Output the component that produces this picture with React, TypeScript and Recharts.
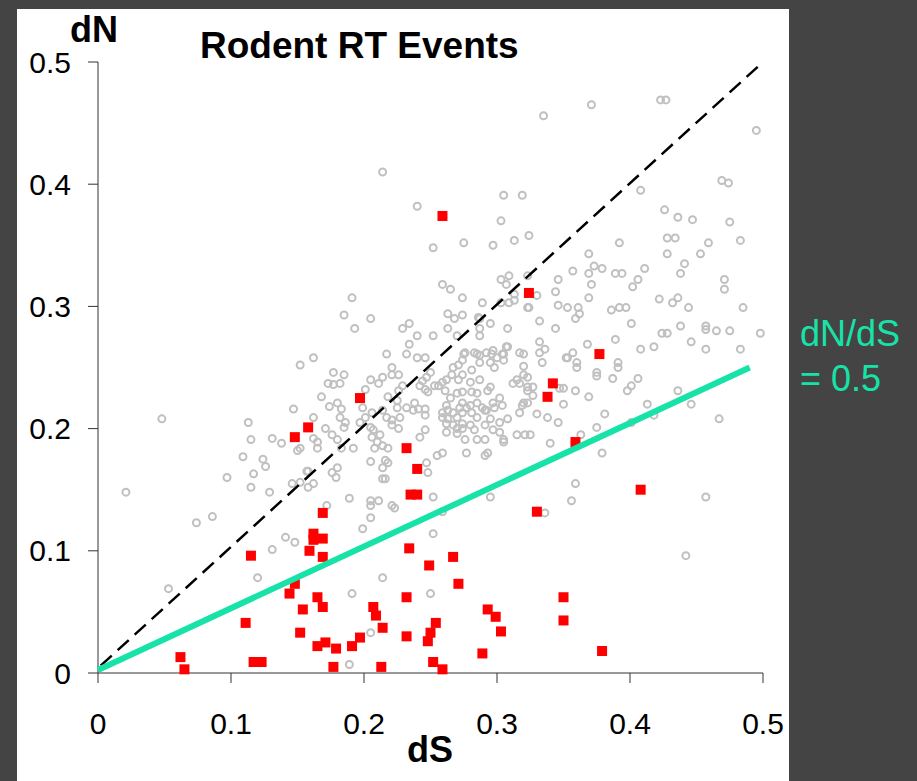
import React from 'react';
import { ScatterChart, Scatter, XAxis, YAxis } from 'recharts';

// axis ticks (dS on x, dN on y)
const dsTicks = [0, 0.1, 0.2, 0.3, 0.4, 0.5];
const dnTicks = [0, 0.1, 0.2, 0.3, 0.4, 0.5];

// grey open circles: [dS, dN]
const allPairs: [number, number][] = [
  [0.214, 0.410], [0.240, 0.382], [0.191, 0.307], [0.185, 0.293], [0.205, 0.290], [0.193, 0.282],
  [0.229, 0.282], [0.234, 0.286], [0.240, 0.276], [0.234, 0.269], [0.217, 0.261], [0.232, 0.261],
  [0.240, 0.258], [0.246, 0.258], [0.162, 0.258], [0.152, 0.252],
  [0.305, 0.391], [0.319, 0.391], [0.303, 0.370], [0.252, 0.348], [0.275, 0.352], [0.297, 0.350],
  [0.313, 0.354], [0.324, 0.358],
  [0.259, 0.318], [0.265, 0.314], [0.274, 0.307], [0.289, 0.303], [0.303, 0.322], [0.309, 0.325],
  [0.307, 0.318], [0.323, 0.325], [0.303, 0.303], [0.309, 0.303], [0.313, 0.310], [0.313, 0.305],
  [0.323, 0.299], [0.263, 0.294], [0.274, 0.293], [0.286, 0.291],
  [0.335, 0.456], [0.371, 0.465], [0.423, 0.469], [0.427, 0.469], [0.495, 0.444], [0.408, 0.395],
  [0.469, 0.403], [0.474, 0.401], [0.426, 0.379], [0.436, 0.373], [0.447, 0.371], [0.475, 0.369],
  [0.369, 0.343], [0.392, 0.352], [0.428, 0.356], [0.434, 0.356], [0.428, 0.343], [0.459, 0.352],
  [0.453, 0.343], [0.483, 0.354], [0.441, 0.335], [0.438, 0.327], [0.411, 0.331], [0.406, 0.322],
  [0.402, 0.316], [0.389, 0.327], [0.394, 0.327], [0.373, 0.333], [0.379, 0.331], [0.369, 0.327],
  [0.371, 0.318], [0.357, 0.329], [0.346, 0.322], [0.344, 0.312], [0.369, 0.307], [0.346, 0.301],
  [0.353, 0.299], [0.361, 0.299], [0.359, 0.290], [0.362, 0.294], [0.386, 0.297], [0.392, 0.299],
  [0.397, 0.299], [0.401, 0.286], [0.422, 0.306], [0.432, 0.303], [0.436, 0.307], [0.444, 0.299],
  [0.471, 0.322], [0.471, 0.314], [0.485, 0.299], [0.424, 0.278], [0.428, 0.278], [0.438, 0.284],
  [0.457, 0.284], [0.457, 0.281], [0.465, 0.280], [0.475, 0.280], [0.498, 0.278], [0.446, 0.271],
  [0.457, 0.265], [0.483, 0.265], [0.418, 0.267], [0.408, 0.265], [0.389, 0.273], [0.368, 0.269],
  [0.357, 0.262], [0.352, 0.258], [0.332, 0.288], [0.332, 0.271], [0.336, 0.265], [0.332, 0.262],
  [0.320, 0.261], [0.308, 0.282], [0.344, 0.282], [0.330, 0.309], [0.324, 0.299],
  [0.268, 0.290], [0.263, 0.282], [0.270, 0.276], [0.287, 0.290], [0.295, 0.286], [0.287, 0.282],
  [0.287, 0.276], [0.252, 0.276], [0.275, 0.261], [0.285, 0.261], [0.296, 0.261], [0.305, 0.261],
  [0.308, 0.267],
  [0.177, 0.246], [0.185, 0.244], [0.173, 0.237], [0.177, 0.236], [0.182, 0.237], [0.168, 0.226],
  [0.147, 0.216], [0.174, 0.218], [0.180, 0.221], [0.183, 0.216], [0.182, 0.209], [0.185, 0.201],
  [0.186, 0.205], [0.162, 0.209], [0.171, 0.200], [0.176, 0.195], [0.180, 0.191], [0.162, 0.192],
  [0.165, 0.189], [0.165, 0.184], [0.152, 0.184], [0.150, 0.182], [0.183, 0.184], [0.192, 0.184],
  [0.157, 0.165], [0.180, 0.168], [0.176, 0.164],
  [0.201, 0.232], [0.205, 0.240], [0.211, 0.237], [0.214, 0.242], [0.221, 0.250], [0.221, 0.244],
  [0.226, 0.244], [0.218, 0.226], [0.225, 0.223], [0.226, 0.231], [0.229, 0.235],
  [0.199, 0.217], [0.197, 0.205], [0.201, 0.209], [0.206, 0.213], [0.207, 0.199], [0.205, 0.201],
  [0.214, 0.215], [0.217, 0.209], [0.221, 0.207], [0.227, 0.209], [0.221, 0.203], [0.225, 0.217],
  [0.226, 0.200],
  [0.206, 0.193], [0.210, 0.189], [0.214, 0.186], [0.218, 0.184], [0.208, 0.184], [0.212, 0.195],
  [0.205, 0.173], [0.216, 0.174], [0.218, 0.172], [0.214, 0.168], [0.216, 0.159], [0.179, 0.160],
  [0.232, 0.217], [0.238, 0.221], [0.241, 0.216], [0.246, 0.216], [0.246, 0.211], [0.237, 0.215],
  [0.242, 0.235], [0.244, 0.239], [0.247, 0.242], [0.250, 0.246], [0.246, 0.232], [0.248, 0.230],
  [0.253, 0.235], [0.256, 0.235], [0.259, 0.238], [0.262, 0.240], [0.261, 0.231],
  [0.267, 0.250], [0.271, 0.252], [0.274, 0.256], [0.276, 0.262], [0.281, 0.248], [0.283, 0.262],
  [0.287, 0.260], [0.287, 0.254], [0.292, 0.262], [0.297, 0.264], [0.300, 0.258], [0.304, 0.261],
  [0.305, 0.256], [0.307, 0.267], [0.295, 0.254], [0.298, 0.250],
  [0.266, 0.244], [0.271, 0.240], [0.274, 0.244], [0.280, 0.238], [0.287, 0.240], [0.295, 0.234],
  [0.293, 0.231], [0.281, 0.230], [0.274, 0.230], [0.270, 0.229], [0.285, 0.229],
  [0.265, 0.225], [0.262, 0.219], [0.263, 0.215], [0.267, 0.213], [0.272, 0.217], [0.274, 0.221],
  [0.277, 0.217], [0.280, 0.219], [0.285, 0.221], [0.289, 0.217], [0.292, 0.215], [0.297, 0.221],
  [0.298, 0.217], [0.302, 0.225], [0.304, 0.219], [0.259, 0.213], [0.259, 0.209], [0.263, 0.208],
  [0.270, 0.209], [0.274, 0.213], [0.281, 0.213], [0.285, 0.209], [0.291, 0.215], [0.295, 0.208],
  [0.302, 0.205], [0.308, 0.208],
  [0.262, 0.204], [0.267, 0.203], [0.270, 0.200], [0.274, 0.204], [0.280, 0.203], [0.262, 0.197],
  [0.270, 0.196], [0.274, 0.200], [0.283, 0.199], [0.291, 0.203], [0.297, 0.199], [0.302, 0.197],
  [0.305, 0.191], [0.276, 0.191], [0.285, 0.191], [0.291, 0.191], [0.305, 0.189], [0.315, 0.195],
  [0.321, 0.195], [0.277, 0.180], [0.291, 0.178], [0.293, 0.180], [0.255, 0.178], [0.259, 0.180],
  [0.317, 0.262], [0.320, 0.251], [0.320, 0.244], [0.315, 0.240], [0.312, 0.237], [0.317, 0.237],
  [0.323, 0.242], [0.323, 0.234], [0.323, 0.231], [0.319, 0.219], [0.320, 0.221], [0.323, 0.221],
  [0.317, 0.213], [0.246, 0.199], [0.242, 0.193], [0.247, 0.172], [0.248, 0.164],
  [0.334, 0.254], [0.353, 0.258], [0.360, 0.254], [0.360, 0.250], [0.375, 0.246], [0.375, 0.243],
  [0.387, 0.241], [0.391, 0.254], [0.391, 0.250], [0.406, 0.241], [0.401, 0.235], [0.398, 0.231],
  [0.436, 0.231], [0.446, 0.220], [0.413, 0.220], [0.418, 0.211], [0.401, 0.205], [0.381, 0.212],
  [0.375, 0.201], [0.467, 0.208], [0.363, 0.195], [0.340, 0.188], [0.379, 0.180], [0.327, 0.234],
  [0.327, 0.227], [0.347, 0.233], [0.350, 0.233], [0.359, 0.231], [0.369, 0.226], [0.350, 0.220],
  [0.330, 0.212], [0.338, 0.209], [0.346, 0.205], [0.325, 0.195],
  [0.252, 0.144], [0.295, 0.144], [0.356, 0.141], [0.359, 0.155], [0.336, 0.131], [0.259, 0.132],
  [0.252, 0.114], [0.457, 0.144], [0.442, 0.096], [0.250, 0.065],
  [0.021, 0.148], [0.048, 0.208], [0.074, 0.123], [0.086, 0.128], [0.053, 0.069], [0.097, 0.160],
  [0.109, 0.177], [0.117, 0.163], [0.115, 0.152], [0.124, 0.175], [0.126, 0.169], [0.129, 0.148],
  [0.113, 0.205], [0.115, 0.191], [0.131, 0.192], [0.138, 0.188], [0.141, 0.111], [0.148, 0.107],
  [0.131, 0.101], [0.120, 0.078], [0.146, 0.155], [0.152, 0.156], [0.158, 0.165], [0.158, 0.152],
  [0.162, 0.155], [0.172, 0.137], [0.189, 0.143], [0.199, 0.118], [0.205, 0.141], [0.205, 0.137],
  [0.211, 0.141], [0.205, 0.127], [0.221, 0.137], [0.223, 0.135], [0.214, 0.078], [0.191, 0.065],
  [0.205, 0.033], [0.189, 0.007], [0.214, 0.159],
];

// red squares: rodent RT events [dS, dN]
const rtPairs: [number, number][] = [
  [0.259, 0.374], [0.197, 0.225], [0.324, 0.311], [0.377, 0.261], [0.342, 0.237], [0.338, 0.226],
  [0.359, 0.189], [0.158, 0.201], [0.148, 0.193], [0.232, 0.184], [0.240, 0.167], [0.235, 0.146],
  [0.240, 0.146], [0.169, 0.131], [0.162, 0.114], [0.162, 0.109], [0.169, 0.110], [0.159, 0.100],
  [0.169, 0.095], [0.115, 0.096], [0.234, 0.102], [0.249, 0.088], [0.148, 0.073], [0.144, 0.065],
  [0.165, 0.062], [0.169, 0.054], [0.154, 0.052], [0.232, 0.062], [0.207, 0.054], [0.209, 0.047],
  [0.214, 0.037], [0.111, 0.041], [0.152, 0.033], [0.232, 0.030], [0.248, 0.026], [0.165, 0.022],
  [0.171, 0.025], [0.179, 0.020], [0.191, 0.022], [0.197, 0.029], [0.062, 0.013], [0.065, 0.003],
  [0.117, 0.009], [0.123, 0.009], [0.177, 0.005], [0.213, 0.005], [0.252, 0.009], [0.408, 0.150],
  [0.330, 0.132], [0.267, 0.095], [0.271, 0.073], [0.350, 0.062], [0.293, 0.052], [0.299, 0.046],
  [0.303, 0.034], [0.350, 0.043], [0.254, 0.041], [0.250, 0.033], [0.289, 0.016], [0.379, 0.018],
  [0.259, 0.003],
];

// dN = dS (dashed) and dN/dS = 0.5 (teal)
const neutralPairs: [number, number][] = [[0.002, 0.006], [0.5, 0.5]];
const halfPairs: [number, number][] = [[0, 0.0025], [0.49, 0.25]];

const toXY = (pairs: [number, number][]) => pairs.map(([x, y]) => ({ x, y }));

const FONT = '"Liberation Sans", Arial, sans-serif';
const TEAL = '#17e3a8';

const fmt = (v: number) => (v === 0 ? '0' : String(v));

const Ring = (p: any) => (
  <circle cx={p.cx} cy={p.cy} r={3.5} fill="none" stroke="#c0c0c0" strokeWidth={2} />
);
const Square = (p: any) => (
  <rect x={p.cx - 5} y={p.cy - 5} width={10} height={10} fill="#ff0000" />
);
const NoMark = () => <g />;

const App = () => {
  const tickStyle = { fill: '#000', fontSize: 30, fontFamily: FONT };
  return (
    <div style={{ position: 'absolute', left: 0, top: 0, width: 917, height: 781, background: '#444', overflow: 'hidden' }}>
      <div style={{ position: 'absolute', left: 17, top: 9, width: 772, height: 772, background: '#fff' }} />
      <div style={{ position: 'absolute', left: 0, top: 0 }}>
        <ScatterChart width={917} height={781} margin={{ top: 62, right: 154, bottom: 48, left: 38 }}>
          <XAxis
            type="number"
            dataKey="x"
            domain={[0, 0.5]}
            ticks={dsTicks}
            interval={0}
            height={60}
            tickSize={10}
            tickMargin={30}
            axisLine={{ stroke: '#333' }}
            tickLine={{ stroke: '#333' }}
            tick={tickStyle}
            tickFormatter={fmt}
          />
          <YAxis
            type="number"
            dataKey="y"
            domain={[0, 0.5]}
            ticks={dnTicks}
            interval={0}
            width={60}
            tickSize={10}
            tickMargin={17}
            axisLine={{ stroke: '#333' }}
            tickLine={{ stroke: '#333' }}
            tick={tickStyle}
            tickFormatter={fmt}
          />
          <Scatter data={toXY(allPairs)} shape={Ring} isAnimationActive={false} />
          <Scatter data={toXY(rtPairs)} shape={Square} isAnimationActive={false} />
          <Scatter
            data={toXY(neutralPairs)}
            shape={NoMark}
            line={{ stroke: '#000', strokeWidth: 2.5, strokeDasharray: '15 8' }}
            isAnimationActive={false}
          />
          <Scatter
            data={toXY(halfPairs)}
            shape={NoMark}
            line={{ stroke: TEAL, strokeWidth: 6 }}
            isAnimationActive={false}
          />
        </ScatterChart>
      </div>
      <svg width={917} height={781} style={{ position: 'absolute', left: 0, top: 0, pointerEvents: 'none' }}>
        <text x={200} y={58} fontFamily={FONT} fontWeight="bold" fontSize={37} fill="#000">Rodent RT Events</text>
        <text x={70} y={42} fontFamily={FONT} fontWeight="bold" fontSize={36} fill="#000">dN</text>
        <text x={407} y={762} fontFamily={FONT} fontWeight="bold" fontSize={36} fill="#000">dS</text>
        <text x={800} y={346} fontFamily={FONT} fontSize={36} fill={TEAL}>dN/dS</text>
        <text x={800} y={391} fontFamily={FONT} fontSize={36} fill={TEAL}>= 0.5</text>
      </svg>
    </div>
  );
};

export default App;
